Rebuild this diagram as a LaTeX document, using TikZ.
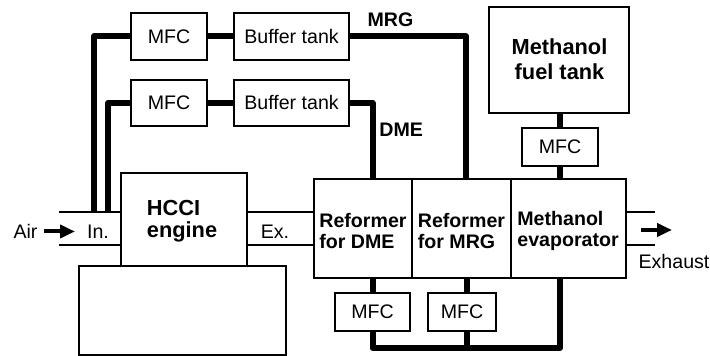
\documentclass[tikz,border=0pt]{standalone}
\usepackage{fontspec}
\setmainfont{Liberation Sans}
\usetikzlibrary{fit,arrows.meta}
\begin{document}
\begin{tikzpicture}[x=0.5pt,y=-0.5pt,
  every node/.style={font=\fontsize{9.8}{10.85}\selectfont},
  box/.style={draw, line width=0.65pt, inner sep=0pt},
  pipe/.style={line width=3pt, line join=round},
  thin/.style={line width=0.7pt},
  flow/.style={line width=2pt, -{Triangle[length=7.5pt,width=6.5pt]}},
  lbl/.style={inner sep=0pt, align=left},
  blbl/.style={inner sep=0pt, align=left, font=\fontsize{9.8}{10.85}\selectfont\bfseries},
  bigl/.style={inner sep=0pt, font=\fontsize{10.9}{10.85}\selectfont\bfseries}]
\useasboundingbox (0,0) rectangle (710,356);
% boxes
\node[box, fit={(131,13) (207,60)}] (mfcA) {};
\node at (mfcA.center) {MFC};
\node[box, fit={(234,13) (349,60)}] (bufA) {};
\node at (bufA.center) {Buffer tank};
\node[box, fit={(131,80) (207,126)}] (mfcB) {};
\node at (mfcB.center) {MFC};
\node[box, fit={(234,80) (349,126)}] (bufB) {};
\node at (bufB.center) {Buffer tank};
\node[box, fit={(489,7) (629,113)}] (fuel) {};
\node[bigl, align=center, font=\fontsize{10.9}{12.5}\selectfont\bfseries] (tFuel) at (559.5,59.5) {Methanol\\fuel tank};
\node[box, fit={(522,128) (598,166)}] (mfcC) {};
\node at (mfcC.center) {MFC};
\node[box, fit={(121,173) (247,266)}] (eng) {};
\node[box, fit={(79,266) (286,355)}] (base) {};
\node[box, fit={(314,179) (412,278)}] (refD) {};
\node[box, fit={(412,179) (511,278)}] (refM) {};
\node[box, fit={(511,179) (626,278)}] (evap) {};
\node[box, fit={(335,293) (410,331)}] (mfcD) {};
\node at (mfcD.center) {MFC};
\node[box, fit={(428,293) (496,331)}] (mfcE) {};
\node at (mfcE.center) {MFC};
% texts
\node[bigl, align=left, anchor=west] (tEng) at (146.5,221.5) {HCCI\\engine};
\node[blbl, anchor=west] (tRD) at (319,231) {Reformer\\for DME};
\node[blbl, anchor=west] (tRM) at (417.5,231) {Reformer\\for MRG};
\node[blbl, anchor=west] (tEv) at (517,231) {Methanol\\evaporator};
\node[lbl] (air) at (25.5,231.5) {Air};
\node[lbl] (in) at (98,231.5) {In.};
\node[lbl] (ex) at (275,231.5) {Ex.};
\node[lbl] (exh) at (674,261) {Exhaust};
\node[blbl] (tMRG) at (390.5,20) {MRG};
\node[blbl, anchor=west] (tDME) at (379,130) {DME};
% coordinates
\coordinate (inT) at (59,212);
\coordinate (inB) at (59,245);
\coordinate (outT) at (655,212);
\coordinate (outB) at (655,245);
\coordinate (a1) at (44,231.5);
\coordinate (a2) at (75,231.5);
\coordinate (e1) at (641,230);
\coordinate (e2) at (672,230);
% thin ducts
\draw[thin] (inT) -- (eng.west |- inT);
\draw[thin] (inB) -- (eng.west |- inB);
\draw[thin] (eng.east |- inT) -- (refD.west |- inT);
\draw[thin] (eng.east |- inB) -- (refD.west |- inB);
\draw[thin] (evap.east |- outT) -- (outT);
\draw[thin] (evap.east |- outB) -- (outB);
% arrows
\draw[flow] (a1) -- (a2);
\draw[flow] (e1) -- (e2);
% MRG line
\draw[pipe] (mfcA.west) -- (94,36.5) -- (94,212);
\draw[pipe] (mfcA.east) -- (bufA.west);
\draw[pipe] (bufA.east) -- (466,36.5) -- (466,179);
% DME line
\draw[pipe] (mfcB.west) -- (108,103) -- (108,212);
\draw[pipe] (mfcB.east) -- (bufB.west);
\draw[pipe] (bufB.east) -- (372.5,103) -- (372.5,179);
% methanol
\draw[pipe] (fuel.south -| 560,0) -- (mfcC.north -| 560,0);
\draw[pipe] (mfcC.south -| 560,0) -- (evap.north -| 560,0);
% bottom loop
\draw[pipe] (372.5,278) -- (372.5,293);
\draw[pipe] (466.5,278) -- (466.5,293);
\draw[pipe] (372.5,331) -- (372.5,348) -- (560,348) -- (560,278);
\draw[pipe] (466.5,331) -- (466.5,348);
\end{tikzpicture}
\end{document}
